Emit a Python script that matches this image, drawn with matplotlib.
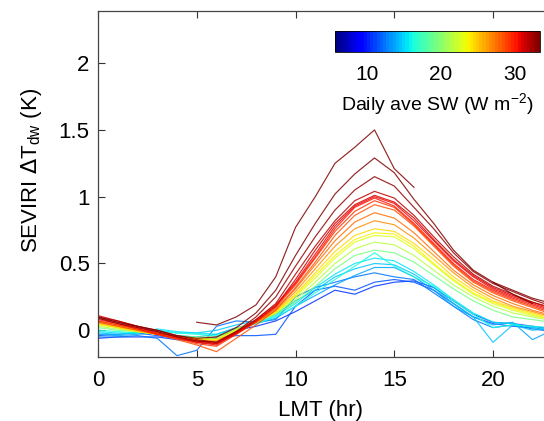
import numpy as np
import matplotlib
matplotlib.use("Agg")
import matplotlib.pyplot as plt
from matplotlib import cm, colors

plt.rcParams['font.family'] = ['Liberation Sans', 'DejaVu Sans']

nan = np.nan
hours = list(range(24))

# daily average SW (W m-2) for each curve
sw_values = [33.8, 33.2, 32.8, 32.0, 31.2, 30.5, 30.0, 29.3, 28.5, 27.5, 26.5,
             24.5, 23.5, 22.8, 21.5, 19.5, 16.5, 15.5, 14.5, 13.5, 12.5, 11.5, 10.5]

c01 = [nan, nan, nan, nan, nan, 0.06, 0.04, 0.10, 0.19, 0.40, 0.77, 1.00, 1.25, 1.37, 1.50, 1.21, 1.07, nan, nan, nan, 0.36, 0.27, 0.20, nan]
c02 = [0.10, 0.06, 0.03, 0.00, -0.04, -0.06, -0.05, 0.02, 0.13, 0.30, 0.56, 0.80, 1.02, 1.17, 1.29, 1.18, 0.98, 0.80, 0.60, 0.45, 0.36, 0.30, 0.24, 0.20]
c03 = [0.09, 0.05, 0.02, -0.01, -0.05, -0.08, -0.09, -0.01, 0.10, 0.25, 0.48, 0.70, 0.90, 1.05, 1.15, 1.08, 0.92, 0.76, 0.58, 0.44, 0.35, 0.29, 0.23, 0.18]
c04 = [0.10, 0.07, 0.03, 0.00, -0.04, -0.07, -0.09, -0.01, 0.08, 0.20, 0.42, 0.63, 0.82, 0.97, 1.04, 0.99, 0.86, 0.70, 0.55, 0.42, 0.33, 0.27, 0.21, 0.17]
c05 = [0.11, 0.07, 0.03, -0.01, -0.05, -0.08, -0.10, -0.02, 0.07, 0.18, 0.38, 0.60, 0.80, 0.94, 1.01, 0.96, 0.84, 0.68, 0.53, 0.41, 0.32, 0.26, 0.21, 0.16]
c06 = [0.09, 0.06, 0.02, -0.02, -0.05, -0.09, -0.11, -0.02, 0.08, 0.19, 0.36, 0.57, 0.78, 0.93, 1.00, 0.95, 0.82, 0.67, 0.52, 0.40, 0.31, 0.25, 0.20, 0.15]
c07 = [0.08, 0.05, 0.01, -0.03, -0.06, -0.09, -0.10, -0.03, 0.07, 0.18, 0.35, 0.55, 0.76, 0.92, 0.99, 0.93, 0.80, 0.65, 0.50, 0.38, 0.30, 0.24, 0.19, 0.14]
c08 = [0.07, 0.04, 0.01, -0.03, -0.06, -0.10, -0.12, -0.03, 0.06, 0.17, 0.34, 0.54, 0.74, 0.89, 0.97, 0.92, 0.79, 0.64, 0.49, 0.37, 0.29, 0.23, 0.18, 0.13]
c09 = [0.06, 0.03, 0.00, -0.03, -0.07, -0.11, -0.16, -0.06, 0.04, 0.15, 0.32, 0.51, 0.71, 0.86, 0.94, 0.90, 0.78, 0.63, 0.48, 0.36, 0.28, 0.22, 0.17, 0.12]
c10 = [0.07, 0.04, 0.01, -0.02, -0.05, -0.08, -0.09, -0.02, 0.06, 0.16, 0.31, 0.49, 0.67, 0.81, 0.88, 0.84, 0.73, 0.59, 0.45, 0.34, 0.26, 0.20, 0.15, 0.11]
c11 = [0.06, 0.03, 0.00, -0.03, -0.06, -0.08, -0.08, -0.01, 0.06, 0.15, 0.29, 0.46, 0.63, 0.76, 0.82, 0.79, 0.69, 0.56, 0.43, 0.32, 0.24, 0.18, 0.14, 0.10]
c12 = [0.05, 0.02, -0.01, -0.03, -0.06, -0.07, -0.08, -0.01, 0.06, 0.14, 0.27, 0.43, 0.59, 0.71, 0.76, 0.74, 0.65, 0.53, 0.40, 0.30, 0.22, 0.17, 0.13, 0.09]
c13 = [0.04, 0.02, -0.01, -0.03, -0.05, -0.06, -0.07, 0.00, 0.07, 0.14, 0.26, 0.41, 0.56, 0.68, 0.73, 0.72, 0.63, 0.50, 0.38, 0.28, 0.21, 0.16, 0.12, 0.08]
c14 = [0.05, 0.02, 0.00, -0.02, -0.05, -0.07, -0.07, 0.00, 0.06, 0.13, 0.25, 0.39, 0.54, 0.66, 0.71, 0.70, 0.61, 0.49, 0.37, 0.27, 0.20, 0.15, 0.11, 0.08]
c15 = [0.03, 0.01, -0.01, -0.03, -0.05, -0.06, -0.06, 0.01, 0.07, 0.13, 0.23, 0.36, 0.50, 0.61, 0.66, 0.64, 0.56, 0.45, 0.34, 0.25, 0.18, 0.13, 0.10, 0.07]
c16 = [0.02, 0.00, -0.01, -0.03, -0.04, -0.05, -0.05, 0.01, 0.06, 0.12, 0.21, 0.33, 0.46, 0.56, 0.60, 0.58, 0.51, 0.41, 0.31, 0.22, 0.15, 0.10, 0.08, 0.06]
c17 = [0.00, -0.01, -0.02, 0.00, -0.02, -0.03, -0.04, 0.00, 0.05, 0.10, 0.18, 0.28, 0.38, 0.48, 0.58, 0.48, 0.40, 0.33, 0.22, 0.12, 0.02, 0.04, 0.03, 0.02]
c18 = [-0.01, -0.02, -0.02, 0.01, -0.01, -0.02, -0.03, 0.01, 0.05, 0.11, 0.20, 0.32, 0.42, 0.50, 0.54, 0.52, 0.44, 0.34, 0.23, 0.13, 0.06, 0.05, 0.02, 0.01]
c19 = [-0.02, -0.03, -0.02, 0.00, -0.02, -0.02, 0.00, 0.04, 0.07, 0.12, 0.22, 0.30, 0.40, 0.46, 0.50, 0.49, 0.42, 0.32, 0.20, 0.10, -0.09, 0.04, 0.00, 0.02]
c20 = [-0.03, -0.04, -0.03, -0.02, -0.04, -0.05, -0.03, 0.02, 0.05, 0.09, 0.18, 0.26, 0.34, 0.41, 0.47, 0.47, 0.40, 0.30, 0.18, 0.10, 0.04, 0.06, -0.07, 0.00]
c21 = [-0.05, -0.05, -0.04, -0.06, -0.19, -0.15, 0.03, 0.07, 0.06, 0.08, 0.25, 0.32, 0.36, 0.40, 0.43, 0.40, 0.38, 0.28, 0.18, 0.08, 0.02, 0.04, 0.01, -0.01]
c22 = [-0.04, -0.03, -0.02, -0.04, -0.06, -0.08, -0.06, -0.04, -0.04, -0.03, 0.18, 0.30, 0.33, 0.30, 0.36, 0.38, 0.36, 0.30, 0.20, 0.10, 0.05, 0.03, 0.02, 0.00]
c23 = [-0.06, -0.05, -0.05, -0.05, -0.07, -0.08, -0.05, 0.00, 0.03, 0.07, 0.14, 0.22, 0.30, 0.27, 0.33, 0.36, 0.37, 0.32, 0.22, 0.12, 0.06, 0.05, 0.03, 0.01]

curves = [c01, c02, c03, c04, c05, c06, c07, c08, c09, c10, c11, c12,
          c13, c14, c15, c16, c17, c18, c19, c20, c21, c22, c23]

xticks = [0, 5, 10, 15, 20]
yticks = [0, 0.5, 1, 1.5, 2]
yticklabels = ['0', '0.5', '1', '1.5', '2']
cbar_ticks = [10, 20, 30]

W, H = 544, 421
fig = plt.figure(figsize=(W / 100, H / 100), dpi=100)

x0, x1 = 0, 23
px_per_hr = 19.75
ax_left = 98 / W
ax_bottom = 1 - 357 / H
ax_height = (357 - 11) / H
ax_width = (x1 - x0) * px_per_hr / W
ax = fig.add_axes([ax_left, ax_bottom, ax_width, ax_height])

cmap = plt.get_cmap('jet', 64)
vmin, vmax = 5.7, 33.4
norm = colors.Normalize(vmin=vmin, vmax=vmax)

# draw low values first so red lines end on top
order = np.argsort(sw_values)
for i in order:
    ax.plot(hours, curves[i], color=cmap(norm(sw_values[i])), lw=0.85, alpha=0.85)

ax.set_xlim(x0, x1)
ax.set_ylim(-0.2, 2.39)
ax.set_xticks(xticks)
ax.set_yticks(yticks)
ax.set_yticklabels(yticklabels)
ax.tick_params(direction='in', length=5, width=0.8, labelsize=16, top=True, right=True,
               colors='#333333', labelcolor='black')
ax.tick_params(axis='x', pad=9)
ax.tick_params(axis='y', pad=6)
for s in ax.spines.values():
    s.set_color('#444444')
    s.set_linewidth(0.9)

ax_w_px = ax_width * W
ax_h_px = ax_height * H
ax.set_xlabel('LMT (hr)', fontsize=16)
ax.xaxis.set_label_coords((320 - 98) / ax_w_px, -(400 - 357) / ax_h_px)
ax.set_ylabel(r'SEVIRI $\Delta$T$_{\mathregular{dw}}$ (K)', fontsize=16)
ax.yaxis.set_label_coords(-(98 - 44) / ax_w_px, 0.54)

# colorbar
cax = fig.add_axes([335 / W, 1 - 52 / H, 205 / W, 21 / H])
sm = cm.ScalarMappable(norm=norm, cmap=cmap)
cb = fig.colorbar(sm, cax=cax, orientation='horizontal')
cb.set_ticks(cbar_ticks)
cb.ax.tick_params(length=0, labelsize=15, pad=9)
cb.outline.set_linewidth(0.6)
cb.set_label(r'Daily ave SW (W m$^{\mathregular{-2}}$)', fontsize=14, labelpad=6)

fig.savefig('out.png', dpi=100)
